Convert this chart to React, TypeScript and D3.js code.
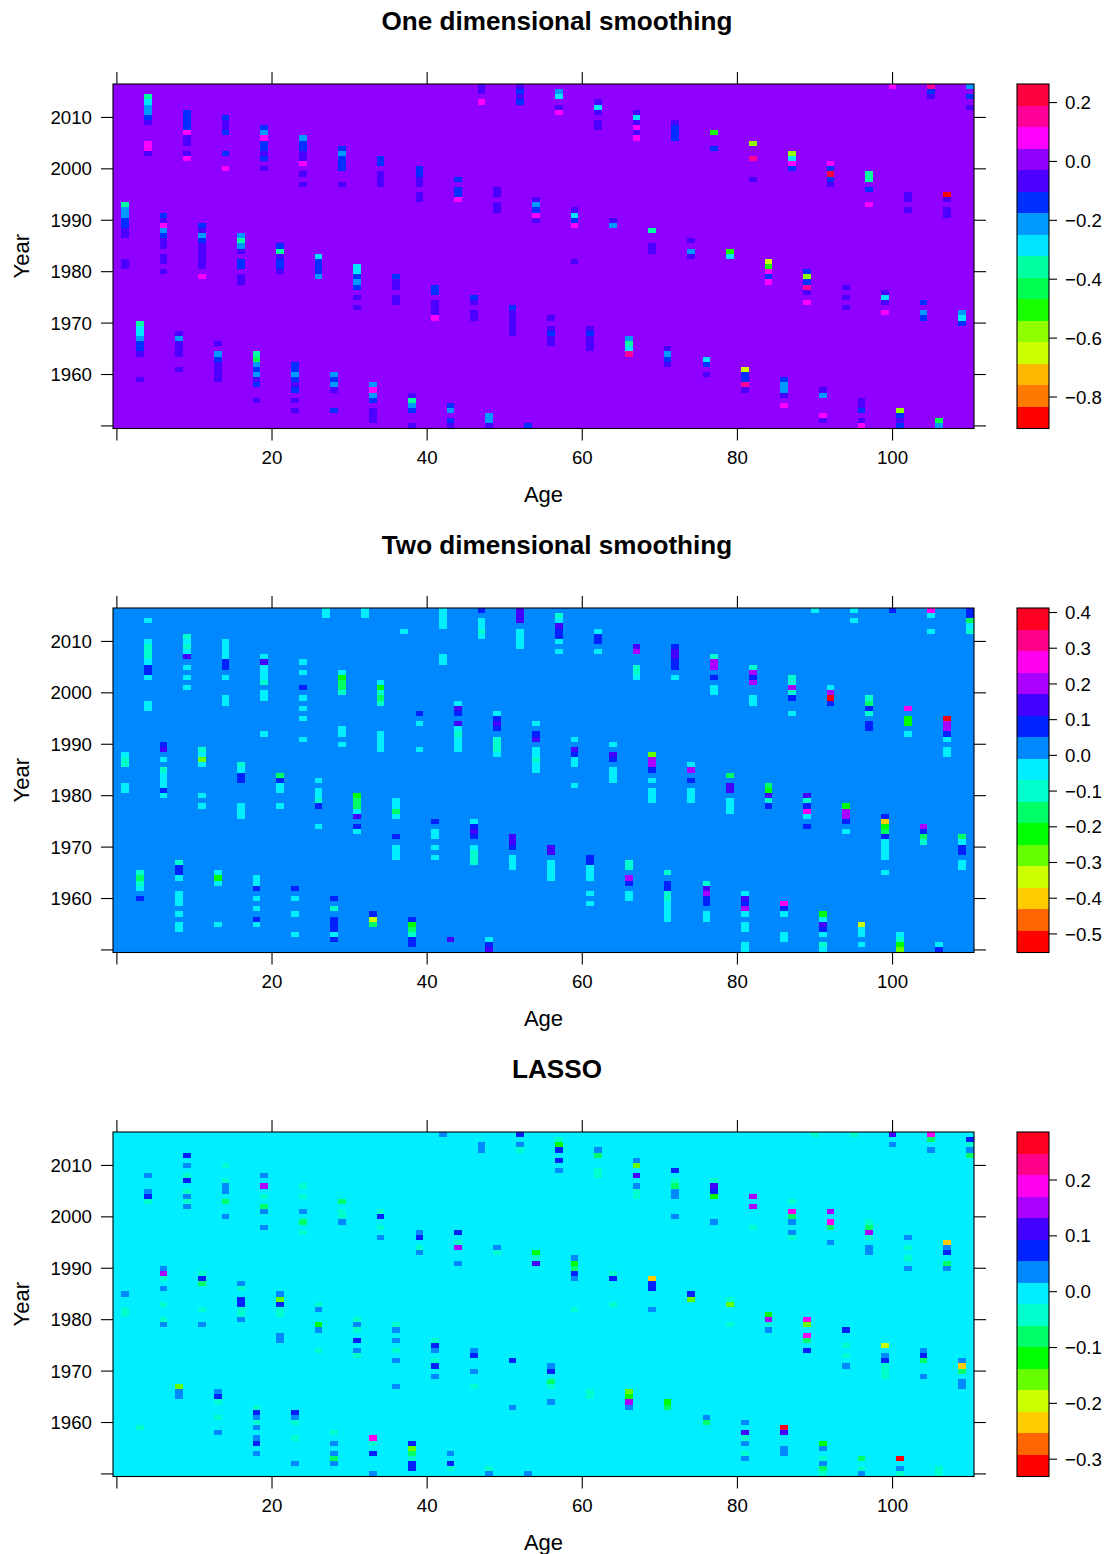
import React from "react";
import * as d3 from "d3";

// Each run: [age, first (latest) year, ...colour-band index for that year and the years below it]
const runsOneDim: number[][] = [
  [1,1993,7,9,9,10,10,11,11],[1,1982,11,11],
  [3,1970,7,8,8,9,10,10,11],[3,1959,11],
  [4,2014,7,8,9,9,10,11],[4,2005,13,13,11],
  [6,1991,10,11,13,9,10,11,11],[6,1983,11,11],[6,1980,11],
  [8,1968,11,9,11,11,11],[8,1961,11],
  [9,2011,10,10,10,10,13,11,11],[9,2003,11,13],
  [11,1989,10,11,9,10,11,11,11,11,11],[11,1979,13],
  [13,1966,11],[13,1964,9,10,11,11,11,11],
  [14,2010,10,11,11,10],[14,2003,10],[14,2000,13],
  [16,1987,9,7,9,11],[16,1982,10,10],[16,1979,11,11],
  [18,1964,7,6,9,10,9,11,10],[18,1955,11],
  [19,2008,10,9,13,10,10,11,10],[19,2000,11],
  [21,1985,10,7,11,10,10,11],
  [23,1962,10,10,9,10,11,10],[23,1955,11],[23,1953,11],
  [24,2006,9,10,10,11,11,13],[24,1999,11],[24,1997,11],
  [26,1983,8,10,10,10,9],
  [28,1960,9,10,9,11],[28,1953,10],
  [29,2004,10,9,10,10,10],[29,1997,11],
  [31,1981,8,8,10,9,10],[31,1975,11],[31,1973,11],
  [33,1958,9,13,9,10],[33,1953,11,11,11],
  [34,2002,10,10],[34,1999,11,11,11],
  [36,1979,10,11,11],[36,1975,11,11],
  [38,1956,11,7,9,10],[38,1950,11],
  [39,2000,10,10,11,11],[39,1995,11,11],
  [41,1977,10,10],[41,1974,11,11,11,13],
  [43,1954,10,9],[43,1951,10,11],
  [44,1998,10],[44,1996,10,10,13],
  [46,1975,10,11],[46,1972,11,11],
  [47,2016,11,11],[47,2013,13],
  [48,1952,9,9,11],
  [49,1996,11,11],[49,1993,11,11],
  [51,1973,10,11,11,11,11,11],
  [52,2016,11,10,11,10],
  [53,1950,10],
  [54,1994,11,9,10,13,11],
  [56,1971,11],[56,1969,11,10,11,11],
  [57,2015,9,8],[57,2012,11,13],
  [59,1992,11,8,10,13],[59,1982,11],
  [61,1969,11,10,11,11,11],
  [62,2013,11,8,11],[62,2009,11,11],
  [64,1990,11,9],
  [66,1967,9,7,8,14],
  [67,2011,11,8,11,13,11,13],
  [69,1988,7],[69,1985,11,11],
  [71,1965,11,9,10,11],
  [72,2009,11,10,10,10],
  [74,1986,11],[74,1984,9,11],
  [76,1963,8,10],[76,1960,11],
  [77,2007,5],[77,2004,10],
  [79,1984,5,8],
  [81,1961,3,10,10,14,11],
  [82,2005,4],[82,2002,14],[82,1998,11],
  [84,1982,3,5,13,10,13],
  [86,1959,10,9,9,11],[86,1954,13],
  [87,2003,4,8,13,10],
  [89,1980,10,4,10,14,11],[89,1974,13],
  [91,1957,11,9],[91,1952,13,11],
  [92,2001,13,10,15,10,11],
  [94,1977,11],[94,1975,11],[94,1973,11],
  [96,1955,11,11,10],[96,1951,11,13],
  [97,1999,7,7],[97,1996,10],[97,1993,13],
  [99,1976,11,8,11],[99,1972,13],
  [100,2016,13],
  [101,1953,4,10,11,10],
  [102,1995,11,11],[102,1992,11],
  [104,1974,10],[104,1972,9,10],
  [105,2016,14,10,11],
  [106,1951,6,9],
  [107,1995,0,11],[107,1992,11,11],
  [109,1972,9,8,10],
  [110,2016,9],[110,2014,10],[110,2012,11],
];

const runsTwoDim: number[][] = [
  [1,1988,8,7,7],[1,1982,8,8],
  [3,1965,7,6,7,8],[3,1960,10],
  [4,2014,8],[4,2010,8,7,7,7,8,10,10,8],[4,1998,8,8],
  [6,1990,10,11],[6,1987,8],[6,1985,7,8,8,8,10,8],
  [8,1967,7,10,10,8],[8,1961,8,8,8],[8,1957,8],[8,1955,8,8],
  [9,2011,7,8,7,8,11],[9,2005,8],[9,2003,8],[9,2001,8],
  [11,1989,7,8,4,8],[11,1980,8],[11,1978,8],
  [13,1965,8,5,8],[13,1955,8],
  [14,2010,8,8,8,8,10,10],[14,2003,8],[14,1999,8,8],
  [16,1986,7,8,10,10],[16,1978,8,8,8],
  [18,1964,8,8,10],[18,1960,8],[18,1958,8],[18,1956,10,8],
  [19,2007,8,11,8,8,8,7],[19,2000,8,8],[19,1992,8],
  [21,1984,6,10,8,8],[21,1978,8],
  [23,1962,10],[23,1960,8],[23,1957,8],[23,1953,8],
  [24,2006,8],[24,2004,8],[24,2001,10],[24,1999,8],[24,1997,8],[24,1995,8],[24,1991,8],
  [26,1983,8],[26,1981,8,8,7,10],[26,1974,8],
  [27,2016,8,8],
  [28,1960,10],[28,1958,7],[28,1956,10,10,10,8,10],
  [29,2004,8,5,6,6,7],[29,1993,8,8],[29,1990,8],
  [31,1980,5,6,6,8,11],[31,1974,10,8],
  [32,2016,8,8],
  [33,1957,10,3,6],
  [34,2002,8,5,7,6,7],[34,1992,8,8,8,8],
  [36,1979,8,8,6,8],[36,1972,10],[36,1970,8,8,8],
  [37,2012,8],
  [38,1956,10,5,6,7,10,10],
  [39,1996,10],[39,1994,8],[39,1989,8],
  [41,1975,10],[41,1973,8,8],[41,1970,8],[41,1968,8],
  [42,2016,8,8,8,8],[42,2007,8,8],
  [43,1952,11],
  [44,1998,8,11,10],[44,1994,11,8,7,8,8,8],
  [46,1975,8,10,11,10],[46,1970,8,7,7,7],
  [47,2016,10],[47,2014,8,8,7,8],
  [48,1952,8,10,11],
  [49,1996,8,10,11,10],[49,1991,7,7,7,8],
  [51,1972,11,11,10],[51,1968,8,8,8],
  [52,2016,11,11,11],[52,2012,8,8,8,8],
  [54,1994,8],[54,1992,10,11],[54,1989,8,8,7,8,8],
  [56,1970,11,11],[56,1967,8,8,8,8],
  [57,2015,7,8,11,10,10,8],[57,2008,8],
  [59,1991,8],[59,1989,11,10,8,8],[59,1982,8],
  [61,1968,10,10],[61,1966,8,8,8],[61,1961,8],[61,1959,8],
  [62,2012,8,10,10],[62,2008,8],
  [64,1990,8],[64,1988,11,10],[64,1985,8,8,8],
  [66,1967,7,7],[66,1964,12,10],[66,1961,8,8],
  [67,2009,11,12],[67,2005,7,7,8],
  [69,1988,4,12,12,10],[69,1983,8],[69,1981,8,8,8],
  [71,1965,7],[71,1963,10,10,7,7,8,8,8,8],
  [72,2009,10,11,11,10,10],[72,2003,8],
  [74,1986,8,12],[74,1983,10],[74,1981,8,8,8],
  [76,1963,7,11,12,10,10],[76,1957,8,8],
  [77,2007,7,12,12],[77,2003,10],[77,2001,8,8],
  [79,1984,6],[79,1982,11,11],[79,1979,8,8,8],
  [81,1961,8,11,10,12,8],[81,1955,8,8],[81,1951,8,8],
  [82,2005,7,12,10,12],[82,1999,8,8],
  [84,1982,6,5,11,7,10],
  [86,1959,13,10,8],[86,1953,8,8],
  [87,2003,7,7,12,7,10],[87,1996,8],
  [89,1980,11,7,10,13,8],[89,1974,10],
  [90,2016,8],
  [91,1957,5,8,11,10,8],[91,1951,7,8],
  [92,2001,8,12,0,10],
  [94,1978,5,12,12,10],[94,1973,8],
  [95,2016,8],[95,2014,8],
  [96,1955,3,8,8],[96,1951,8],
  [97,1999,7,6,10,7],[97,1994,10,10],
  [99,1976,10,2,5,6,10,8,8,8,8],[99,1965,8],
  [100,2016,10],
  [101,1953,8,7,5,4],
  [102,1997,13],[102,1995,5,5],[102,1992,8],
  [104,1974,12,10,6,7],
  [105,2016,13,8],[105,2012,8],
  [106,1951,8,10],
  [107,1995,0,12,12,10,8],[107,1989,8,8],
  [109,1972,6,8,10,10],[109,1967,8,8],
  [110,2016,10,10,6,8,7],
];

const runsLasso: number[][] = [
  [1,1985,9],[1,1982,7,7],
  [3,1959,7],
  [4,2008,9],[4,2005,9,10,7],
  [6,1990,9,12,7],[6,1986,9],[6,1983,7],[6,1980,7,9],
  [8,1967,4,9,9],
  [9,2012,10],[9,2010,9],[9,2008,7,10],[9,2005,7,9,7,9],
  [11,1989,7,10,6],[11,1982,7],[11,1979,9],
  [13,1966,9,10,7],[13,1961,7],[13,1958,9],
  [14,2010,7],[14,2007,7,9,9],[14,2003,6],[14,2000,9],
  [16,1987,9,7],[16,1984,10,10,7,7,9],
  [18,1963,7,10,9,7,9],[18,1957,9,10],[18,1954,9],
  [19,2008,9],[19,2006,12],[19,2004,7],[19,2002,6,9],[19,1998,9],
  [21,1985,9,4,10,7,7],[21,1977,9,9],
  [23,1962,10,9,7],[23,1957,7],[23,1952,9],
  [24,2006,7],[24,2004,7],[24,2001,9],[24,1999,6],[24,1997,7],
  [26,1983,7,9],[26,1979,5,9],[26,1974,7],
  [28,1958,7],[28,1956,9],[28,1954,9,6,9],
  [29,2003,6],[29,2001,7,7,9],
  [31,1980,7,9,7],[31,1976,10],[31,1974,9,7],
  [33,1957,13,7],[33,1954,10],[33,1950,9],
  [34,2001,7,10],[34,1998,7],[34,1996,9],
  [36,1979,7,9],[36,1976,9],[36,1974,7],[36,1972,9],[36,1967,9],
  [38,1956,10,4,6,7,10,10],
  [39,1997,9,10],[39,1994,7,9],
  [41,1976,7,10,9],[41,1972,7,10],[41,1969,9],
  [42,2016,9],
  [43,1954,9],[43,1952,10,7],
  [44,1997,10],[44,1995,7,12],[44,1991,9],
  [46,1974,9,10],[46,1970,9],[46,1967,7],
  [47,2014,9,9],
  [48,1951,7,9],
  [49,1994,9,7],
  [51,1972,10],[51,1963,9],
  [52,2016,10],[52,2014,9,7],
  [53,1950,9],
  [54,1993,5,7,11],
  [56,1971,9,10],[56,1968,6,7],[56,1964,9],
  [57,2015,7,5,10],[57,2011,10],[57,2009,9],
  [59,1992,9,5,6,10,9],[59,1982,7],
  [61,1966,7,7],
  [62,2013,9,6],[62,2009,7,7],
  [64,1989,7,10],[64,1983,7],
  [66,1966,4,5,12,9],
  [67,2011,9,4],[67,2008,11],[67,2006,9,7,7],
  [69,1988,2,10,10],[69,1982,9],
  [71,1964,5,6],
  [72,2009,10],[72,2007,7,6,9,9],[72,2000,9],
  [74,1985,10,4],
  [76,1961,9,6],
  [77,2007,7,11,10,5],[77,1999,9],
  [79,1984,7,4],[79,1979,7],
  [81,1960,9],[81,1958,11,7,9],[81,1954,7,9],
  [82,2004,12],[82,2002,12],[82,1998,7],
  [84,1981,5,12,7,9],
  [86,1959,15,11],[86,1955,9,9],
  [87,2003,7],[87,2001,13,6,9],[87,1997,9,7],
  [89,1980,13,4],[89,1977,13,6],[89,1974,10],
  [90,2016,7],
  [91,1956,5,9],[91,1953,7,9,6,7],
  [92,2001,12],[92,1999,13,6],[92,1995,9],
  [94,1978,10],[94,1975,7],[94,1973,7],[94,1971,9],
  [95,2016,7],
  [96,1953,6],[96,1951,7,9],
  [97,1999,7,6,12,7],[97,1994,9,9],
  [99,1975,3],[99,1973,9,10,7,7,7],
  [100,2016,11],[100,2014,9],
  [101,1953,0],[101,1951,9,7],
  [102,1996,9],[102,1994,7],[102,1992,7],[102,1990,9],
  [104,1974,9,10,6],[104,1969,9],
  [105,2016,13,6],[105,2013,9],
  [106,1951,7,7],
  [107,1995,2,9,10],[107,1991,6,9],
  [109,1972,9,2,6],[109,1968,9,9],
  [110,2015,10,7,9,6],
];

const paletteOneDim = ["#ff0000","#ff7800","#ffb800","#ccff00","#90ff00","#19ff00","#00ff50","#00ffa0","#00e5ff","#0099ff","#0030ff","#4b00ff","#9000ff","#ff00ff","#ff0099","#ff0040"];
const paletteOther = ["#ff0000","#ff6600","#ffcc00","#ccff00","#66ff00","#00ff00","#00ff66","#00ffcc","#00eeff","#0088ff","#0022ff","#4400ff","#aa00ff","#ff00ee","#ff0088","#ff0022"];

const xTicks = [0, 20, 40, 60, 80, 100];
const yTicks = [1950, 1960, 1970, 1980, 1990, 2000, 2010];
const ageExtent = [-0.5, 110.5];
const yearExtent = [1949.5, 2016.5];

const panels = [
  { title: "One dimensional smoothing", runs: runsOneDim, palette: paletteOneDim, bg: 12, range: [-0.907, 0.263], ticks: [-0.8, -0.6, -0.4, -0.2, 0, 0.2], top: 84 },
  { title: "Two dimensional smoothing", runs: runsTwoDim, palette: paletteOther, bg: 9, range: [-0.552, 0.4126], ticks: [-0.5, -0.4, -0.3, -0.2, -0.1, 0, 0.1, 0.2, 0.3, 0.4], top: 608 },
  { title: "LASSO", runs: runsLasso, palette: paletteOther, bg: 8, range: [-0.331, 0.286], ticks: [-0.3, -0.2, -0.1, 0, 0.1, 0.2], top: 1132 },
];

const FONT = "'Liberation Sans', Arial, sans-serif";
const L = 113, R = 974, H = 344.5, KL = 1017, KR = 1049;

function Panel({ p }: { p: (typeof panels)[number] }) {
  const T = p.top, B = T + H;
  const x = d3.scaleLinear().domain(ageExtent).range([L, R]);
  const y = d3.scaleLinear().domain(yearExtent).range([B, T]);
  const k = d3.scaleLinear().domain(p.range).range([B, T]);
  const cw = x(1) - x(0), ch = y(0) - y(1);
  const cells: React.ReactNode[] = [];
  p.runs.forEach(([age, year, ...levels], i) => {
    levels.forEach((lv, j) => {
      const yr = year - j;
      cells.push(<rect key={`${i}-${j}`} x={x(age - 0.5)} y={y(yr + 0.5)} width={cw} height={ch} fill={p.palette[lv]} />);
    });
  });
  const n = p.palette.length;
  const bands = d3.range(n).map((i) => p.range[0] + ((p.range[1] - p.range[0]) * i) / n);
  const bh = H / n;
  return (
    <g fontFamily={FONT} fill="#000">
      <text x={557} y={T - 54} textAnchor="middle" fontWeight="bold" fontSize={26.1}>{p.title}</text>
      <g shapeRendering="crispEdges">
        <rect x={L} y={T} width={R - L} height={H} fill={p.palette[p.bg]} />
        {cells}
        {bands.map((b, i) => (
          <rect key={i} x={KL} y={k(b) - bh} width={KR - KL} height={bh} fill={p.palette[i]} />
        ))}
      </g>
      <rect x={L} y={T} width={R - L} height={H} fill="none" stroke="#000" strokeWidth={1.1} />
      {xTicks.map((t) => (
        <g key={t} stroke="#000" strokeWidth={1.1}>
          <line x1={x(t)} x2={x(t)} y1={B} y2={B + 12} />
          <line x1={x(t)} x2={x(t)} y1={T} y2={T - 12} />
        </g>
      ))}
      {yTicks.map((t) => (
        <g key={t} stroke="#000" strokeWidth={1.1}>
          <line x1={L} x2={L - 12} y1={y(t)} y2={y(t)} />
          <line x1={R} x2={R + 12} y1={y(t)} y2={y(t)} />
        </g>
      ))}
      <rect x={KL} y={T} width={KR - KL} height={H} fill="none" stroke="#000" strokeWidth={1.1} />
      {p.ticks.map((t) => (
        <line key={t} x1={KR} x2={KR + 8} y1={k(t)} y2={k(t)} stroke="#000" strokeWidth={1.1} />
      ))}
      {xTicks.filter((t) => t > 0).map((t) => (
        <text key={t} x={x(t)} y={B + 35} textAnchor="middle" fontSize={18.7}>{t}</text>
      ))}
      {yTicks.filter((t) => t > 1950).map((t) => (
        <text key={t} x={92} y={y(t) + 6.6} textAnchor="end" fontSize={18.7}>{t}</text>
      ))}
      {p.ticks.map((t) => (
        <text key={t} x={1065} y={k(t) + 6.6} fontSize={18.7}>{d3.format(".1f")(t).replace("-", "\u2212")}</text>
      ))}
      <text x={543.5} y={B + 73} textAnchor="middle" fontSize={22}>Age</text>
      <text transform={`translate(29,${(T + B) / 2}) rotate(-90)`} textAnchor="middle" fontSize={22}>Year</text>
    </g>
  );
}

export default function App() {
  return (
    <svg width={1111} height={1554} style={{ position: "absolute", left: 0, top: 0, background: "#fff" }}>
      {panels.map((p) => (
        <Panel key={p.title} p={p} />
      ))}
    </svg>
  );
}
